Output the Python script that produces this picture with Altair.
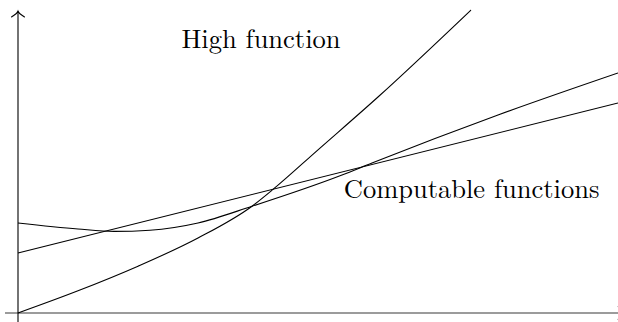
import altair as alt
import pandas as pd

# Horizontal and vertical extent of the coordinate frame
x_range = [-0.3, 10.0]
y_range = [-0.15, 5.2167]

# "High function": grows slowly, then steeply
high_x = [0.0, 1.0, 2.0, 3.0, 3.9, 4.25, 5.0, 6.0, 7.55]
high_y = [0.0, 0.37, 0.78, 1.25, 1.78, 2.06, 2.72, 3.6, 5.05]

# Computable function 1: straight line
lin_x = [0.0, 10.0]
lin_y = [1.0, 3.5]

# Computable function 2: dips first, then rises
dip_x = [0.0, 1.0, 1.6, 2.2, 3.0, 3.9, 5.4, 5.9, 8.0, 10.0]
dip_y = [1.5, 1.4, 1.36, 1.38, 1.5, 1.78, 2.3, 2.5, 3.3, 4.0]

labels = ["High function", "Computable functions"]
label_x = [4.05, 7.56]
label_y = [4.417, 1.917]

# Axis lines with arrow tips
xaxis_from, xaxis_to = -0.217, 10.08
yaxis_from, yaxis_to = -0.15, 5.03

rows = []
for name, xs, ys in [("high", high_x, high_y), ("linear", lin_x, lin_y), ("dip", dip_x, dip_y)]:
    for a, b in zip(xs, ys):
        rows.append({"series": name, "x": a, "y": b})
curves = pd.DataFrame(rows)

xs = alt.Scale(domain=x_range, nice=False, zero=False)
ys = alt.Scale(domain=y_range, nice=False, zero=False)

lines = alt.Chart(curves).mark_line(
    color="black", strokeWidth=1.1, interpolate="monotone", clip=True
).encode(
    x=alt.X("x:Q", scale=xs, axis=None),
    y=alt.Y("y:Q", scale=ys, axis=None),
    detail="series:N",
)

xaxis = alt.Chart(pd.DataFrame({"x": [xaxis_from], "x2": [xaxis_to], "y": [0.0]})).mark_rule(
    color="#7a7a7a", strokeWidth=1.4, clip=True
).encode(
    x=alt.X("x:Q", scale=xs, axis=None), x2="x2:Q", y=alt.Y("y:Q", scale=ys, axis=None)
)

yaxis = alt.Chart(pd.DataFrame({"x": [0.0], "y": [yaxis_from], "y2": [yaxis_to]})).mark_rule(
    color="black", strokeWidth=1.1
).encode(
    x=alt.X("x:Q", scale=xs, axis=None), y=alt.Y("y:Q", scale=ys, axis=None), y2="y2:Q"
)

chevron = "M-1,0.45 C-0.6,0.15 -0.15,-0.05 0,-0.45 C0.15,-0.05 0.6,0.15 1,0.45"

ytip = alt.Chart(pd.DataFrame({"x": [0.0], "y": [yaxis_to - 0.05]})).mark_point(
    shape=chevron, size=180, filled=False, color="black", strokeWidth=1.1, opacity=1
).encode(x=alt.X("x:Q", scale=xs, axis=None), y=alt.Y("y:Q", scale=ys, axis=None))

xtip = alt.Chart(pd.DataFrame({"x": [xaxis_to - 0.03], "y": [0.0]})).mark_point(
    shape=chevron, size=180, filled=False, color="black", strokeWidth=1.1, opacity=1,
    angle=90, clip=True
).encode(x=alt.X("x:Q", scale=xs, axis=None), y=alt.Y("y:Q", scale=ys, axis=None))

text = alt.Chart(pd.DataFrame({"label": labels, "x": label_x, "y": label_y})).mark_text(
    font="'Latin Modern Roman', 'Liberation Serif', 'DejaVu Serif', serif",
    fontSize=26.5, color="black", align="center", baseline="alphabetic"
).encode(
    x=alt.X("x:Q", scale=xs, axis=None), y=alt.Y("y:Q", scale=ys, axis=None), text="label:N"
)

chart = alt.layer(xaxis, yaxis, lines, ytip, xtip, text).properties(
    width=618, height=322, autosize=alt.AutoSizeParams(type="none"), padding=0
).configure_view(stroke=None)

chart.save("out.html", embed_options={"renderer": "svg", "actions": False})
